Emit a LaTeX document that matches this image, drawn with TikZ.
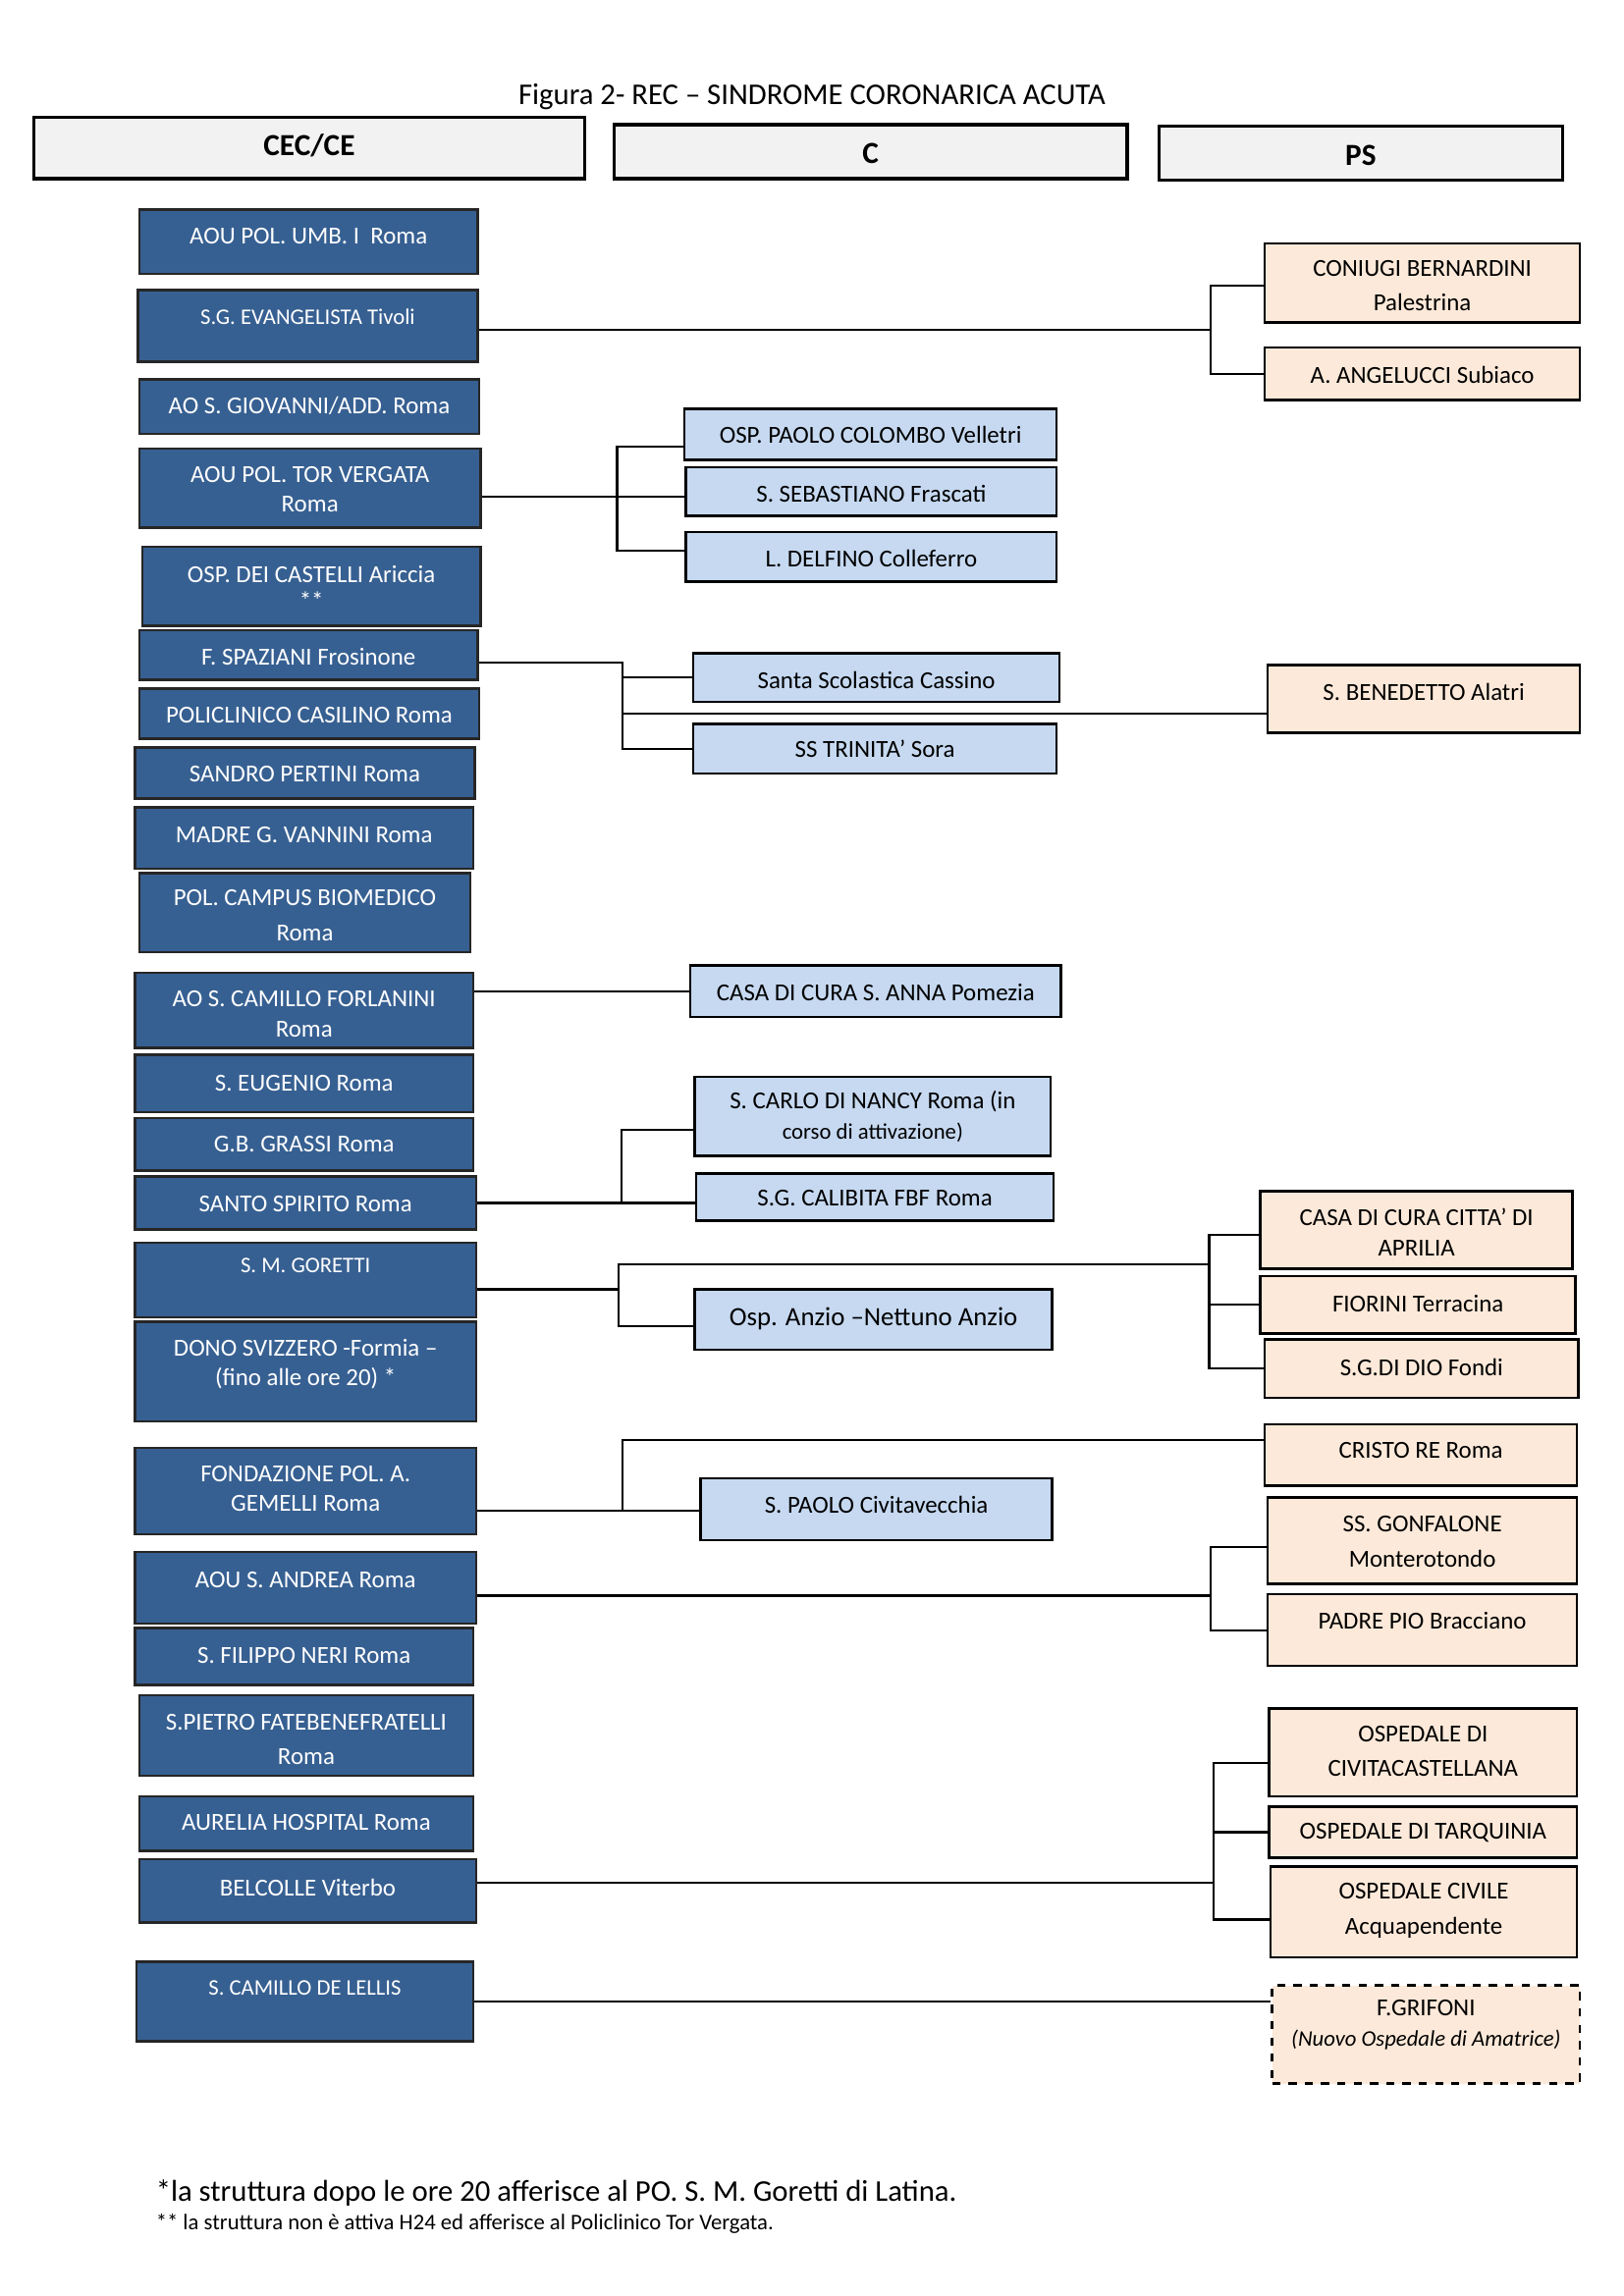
\documentclass[tikz,border=0pt]{standalone}
\usepackage{fontspec}
\setmainfont{Carlito}
\usetikzlibrary{fit}
\definecolor{dkb}{HTML}{376092}
\definecolor{ltb}{HTML}{C6D9F1}
\definecolor{pch}{HTML}{FDE9D9}
\definecolor{hdr}{HTML}{F2F2F2}
\newcommand\smallf{\fontsize{8.2}{10}\selectfont}
\tikzset{
 boxbase/.style={inner sep=0pt, line width=0.9pt, draw=black},
 dk/.style={boxbase, fill=dkb, draw=black!85},
 lt/.style={boxbase, fill=ltb},
 pc/.style={boxbase, fill=pch},
 pcd/.style={boxbase, fill=pch, dashed},
 hd/.style={boxbase, fill=hdr, line width=1.2pt},
 txtbase/.style={inner sep=0pt, align=center, font=\fontsize{9}{11}\selectfont},
 dktxt/.style={txtbase, text=white},
 lttxt/.style={txtbase, text=black},
 pctxt/.style={txtbase, text=black},
 pcdtxt/.style={txtbase, text=black},
 hdtxt/.style={txtbase, font=\bfseries\fontsize{11.3}{13}\selectfont},
 con/.style={line width=0.8pt, draw=black},
}
\newcommand\bx[8]{%
 \node[#1, fit={(#3,#4)(#5,#6)}] (#2) {};
 \node[#1txt] (#2-t) at ({(#3+#5)/2},#7) {#8};}
\begin{document}
\begin{tikzpicture}[x=0.5397pt, y=-0.5397pt]
\useasboundingbox (0,0) rectangle (1108,1567);
\node[font=\fontsize{11.1}{13}\selectfont] (title) at (554,66) {Figura 2- REC – SINDROME CORONARICA ACUTA};
% headers
\bx{hd}{h1}{23}{80}{399}{122}{99}{CEC/CE}
\bx{hd}{h2}{419}{85}{769}{122}{105}{C}
\bx{hd}{h3}{791}{86}{1066}{123}{106}{PS}
% CEC/CE column
\bx{dk}{umb}{95}{143}{326}{187}{161}{AOU POL. UMB. I~ Roma}
\bx{dk}{tivoli}{94}{198}{326}{247}{216}{\smallf S.G. EVANGELISTA Tivoli}
\bx{dk}{giov}{95}{259}{327}{296}{277}{AO S. GIOVANNI/ADD. Roma}
\bx{dk}{torv}{95}{306}{328}{360}{334}{AOU POL. TOR VERGATA\\Roma}
\bx{dk}{cast}{97}{373}{328}{427}{401}{OSP. DEI CASTELLI Ariccia\\[-1.5pt]**}
\bx{dk}{spaz}{95}{430}{326}{464}{448}{F. SPAZIANI Frosinone}
\bx{dk}{casil}{95}{470}{327}{504}{488}{POLICLINICO CASILINO Roma}
\bx{dk}{pert}{92}{510}{324}{545}{528}{SANDRO PERTINI Roma}
\bx{dk}{vann}{92}{551}{323}{593}{570}{MADRE G. VANNINI Roma}
\bx{dk}{camp}{95}{596}{321}{650}{625}{POL. CAMPUS BIOMEDICO\\[2pt]Roma}
\bx{dk}{forl}{92}{664}{323}{715}{692}{AO S. CAMILLO FORLANINI\\Roma}
\bx{dk}{eug}{92}{720}{323}{759}{739}{S. EUGENIO Roma}
\bx{dk}{grassi}{92}{763}{323}{799}{781}{G.B. GRASSI Roma}
\bx{dk}{spirito}{92}{803}{325}{839}{822}{SANTO SPIRITO Roma}
\bx{dk}{goretti}{92}{848}{325}{899}{864}{\smallf S. M. GORETTI}
\bx{dk}{dono}{92}{902}{325}{970}{931}{DONO SVIZZERO -Formia –\\(fino alle ore 20) *}
\bx{dk}{gem}{92}{988}{325}{1047}{1016}{FONDAZIONE POL. A.\\GEMELLI Roma}
\bx{dk}{andrea}{92}{1059}{325}{1108}{1078}{AOU S. ANDREA Roma}
\bx{dk}{neri}{92}{1111}{323}{1150}{1130}{S. FILIPPO NERI Roma}
\bx{dk}{pietro}{95}{1157}{323}{1212}{1187}{S.PIETRO FATEBENEFRATELLI\\[1.5pt]Roma}
\bx{dk}{aurelia}{95}{1226}{323}{1263}{1244}{AURELIA HOSPITAL Roma}
\bx{dk}{belc}{95}{1269}{325}{1312}{1288}{BELCOLLE Viterbo}
\bx{dk}{lellis}{93}{1339}{323}{1393}{1357}{\smallf S. CAMILLO DE LELLIS}
% C column
\bx{lt}{colombo}{467}{279}{721}{314}{297}{OSP. PAOLO COLOMBO Velletri}
\bx{lt}{seb}{468}{319}{721}{352}{337}{S. SEBASTIANO Frascati}
\bx{lt}{delfino}{468}{363}{721}{397}{381}{L. DELFINO Colleferro}
\bx{lt}{scol}{473}{446}{723}{479}{464}{Santa Scolastica Cassino}
\bx{lt}{trin}{473}{494}{721}{528}{511}{SS TRINITA’ Sora}
\bx{lt}{sanna}{471}{659}{724}{694}{677}{CASA DI CURA S. ANNA Pomezia}
\bx{lt}{nancy}{474}{735}{717}{789}{762}{S. CARLO DI NANCY Roma (in\\{\smallf corso di attivazione)}}
\bx{lt}{calib}{475}{801}{719}{833}{818}{S.G. CALIBITA FBF Roma}
\bx{lt}{anzio}{474}{880}{718}{921}{900}{\fontsize{9.7}{11}\selectfont Osp. Anzio –Nettuno Anzio}
\bx{lt}{spaolo}{478}{1009}{718}{1051}{1027}{S. PAOLO Civitavecchia}
% PS column
\bx{pc}{bern}{863}{166}{1078}{220}{195}{CONIUGI BERNARDINI\\[1.5pt]Palestrina}
\bx{pc}{ang}{863}{237}{1078}{273}{256}{A. ANGELUCCI Subiaco}
\bx{pc}{bened}{865}{454}{1078}{500}{472}{S. BENEDETTO Alatri}
\bx{pc}{aprilia}{860}{813}{1073}{866}{841}{CASA DI CURA CITTA’ DI\\APRILIA}
\bx{pc}{fiorini}{860}{871}{1075}{910}{890}{FIORINI Terracina}
\bx{pc}{fondi}{863}{914}{1077}{954}{933}{S.G.DI DIO Fondi}
\bx{pc}{cristo}{863}{972}{1076}{1014}{990}{CRISTO RE Roma}
\bx{pc}{gonf}{865}{1022}{1076}{1081}{1052}{SS. GONFALONE\\[2pt]Monterotondo}
\bx{pc}{padre}{865}{1088}{1076}{1137}{1106}{PADRE PIO Bracciano}
\bx{pc}{civc}{866}{1166}{1076}{1226}{1195}{OSPEDALE DI\\[1.5pt]CIVITACASTELLANA}
\bx{pc}{tarq}{866}{1233}{1076}{1268}{1251}{OSPEDALE DI TARQUINIA}
\bx{pc}{acqua}{867}{1274}{1076}{1336}{1304}{OSPEDALE CIVILE\\[2pt]Acquapendente}
\bx{pcd}{grif}{868}{1355}{1078}{1422}{1382}{F.GRIFONI\\{\itshape\smallf (Nuovo Ospedale di Amatrice)}}
% connectors
\coordinate (J1) at (826,225);
\draw[con] (tivoli.east |- J1) -- (J1);
\draw[con] (bern.west |- 0,195) -| (J1) |- (ang.west);
\coordinate (J2) at (421,339);
\draw[con] (torv.east |- J2) -- (seb.west |- J2);
\draw[con] (colombo.west |- 0,305) -| (J2) |- (delfino.west |- 0,376);
\coordinate (J3) at (425,452);
\draw[con] (spaz.east |- J3) -- (J3) |- (trin.west);
\draw[con] (J3 |- scol.west) -- (scol.west);
\draw[con] (J3 |- 0,487) -- (bened.west |- 0,487);
\draw[con] (forl.east |- sanna.west) -- (sanna.west);
\coordinate (J5) at (424,821);
\draw[con] (spirito.east |- J5) -- (calib.west |- J5);
\draw[con] (J5) |- (nancy.west |- 0,771);
\coordinate (J6) at (422,880);
\coordinate (K6) at (825,863);
\draw[con] (goretti.east |- J6) -- (J6);
\draw[con] (J6) |- (anzio.west |- 0,905);
\draw[con] (J6) |- (K6);
\draw[con] (aprilia.west |- 0,843) -| (K6) |- (fondi.west);
\draw[con] (K6 |- fiorini.west) -- (fiorini.west);
\coordinate (J7) at (425,1031);
\draw[con] (gem.east |- J7) -- (spaolo.west |- J7);
\draw[con] (J7) |- (cristo.west |- 0,983);
\coordinate (J8) at (826,1089);
\draw[con] (andrea.east |- J8) -- (J8);
\draw[con] (gonf.west |- 0,1056) -| (J8) |- (padre.west |- 0,1113);
\coordinate (J9) at (828,1285);
\draw[con] (belc.east |- J9) -- (J9);
\draw[con] (civc.west |- 0,1203) -| (J9) |- (acqua.west |- 0,1310);
\draw[con] (J9 |- tarq.west) -- (tarq.west);
\draw[con] (lellis.east |- 0,1366) -- (grif.west |- 0,1366);
% footnotes
\node[anchor=west, inner sep=0pt, font=\fontsize{11.1}{13}\selectfont] (fn1) at (106,1497) {*la struttura dopo le ore 20 afferisce al PO. S. M. Goretti di Latina.};
\node[anchor=west, inner sep=0pt, font=\smallf] (fn2) at (106,1518) {** la struttura non è attiva H24 ed afferisce al Policlinico Tor Vergata.};
\end{tikzpicture}
\end{document}
